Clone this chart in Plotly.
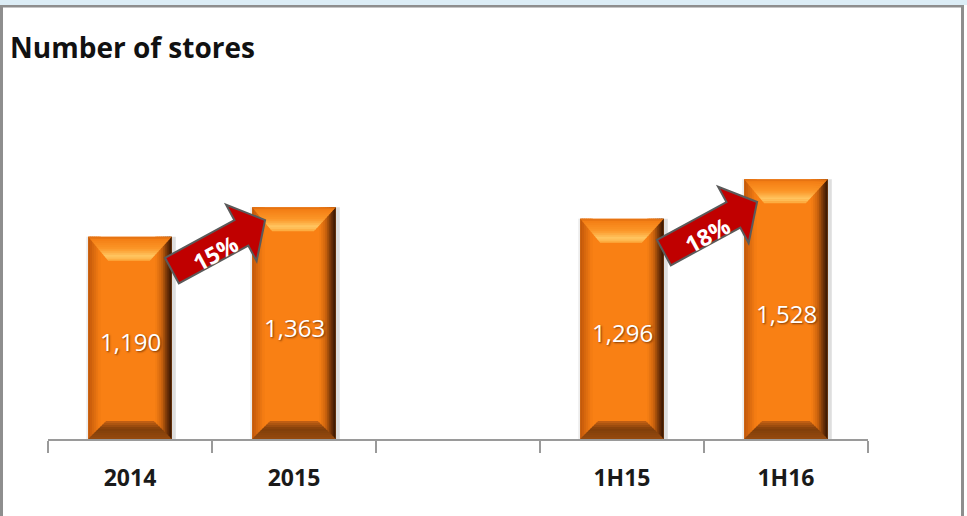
import math
import plotly.graph_objects as go

# ---- data -------------------------------------------------------------
categories = ["2014", "2015", " ", "1H15", "1H16"]
bar_categories = ["2014", "2015", "1H15", "1H16"]
stores = [1190, 1363, 1296, 1528]
growth_pairs = [("2014", "2015"), ("1H15", "1H16")]
title_text = "Number of stores"

# ---- geometry / style ---------------------------------------------------
W, H = 967, 516
M = dict(l=48, r=99, t=167, b=77)
PLOT_W = W - M["l"] - M["r"]
PLOT_H = H - M["t"] - M["b"]
Y_MAX = 1600
SLOT_PX = PLOT_W / len(categories)
BAR_W = 0.51
HALF = BAR_W * SLOT_PX / 2

FACE = (249, 128, 20)
FONT = "Open Sans"


def mix(c1, c2, t):
    return tuple(round(a + (b - a) * t) for a, b in zip(c1, c2))


def ramp(stops, t):
    """Piecewise-linear colour ramp; stops = [(pos, rgb), ...]."""
    for (p0, c0), (p1, c1) in zip(stops, stops[1:]):
        if t <= p1:
            return mix(c0, c1, (t - p0) / (p1 - p0) if p1 > p0 else 0)
    return stops[-1][1]


def rgb(c):
    return "rgb(%d,%d,%d)" % c


def px_path(points):
    return "M " + " L ".join("%.2f,%.2f" % p for p in points) + " Z"


shapes = []
annotations = []

value_of = dict(zip(bar_categories, stores))

# ---- bevelled bars (decoration drawn over the bar trace) -------------------
for cat, val in zip(bar_categories, stores):
    i = categories.index(cat)
    # soft drop shadow around the bar
    shapes.append(dict(type="rect", layer="below", xref="x", yref="y",
                       xsizemode="pixel", xanchor=i, x0=HALF - 1, x1=HALF + 4,
                       y0=0, y1=val, fillcolor="rgba(0,0,0,0.13)", line_width=0))
    shapes.append(dict(type="rect", layer="below", xref="x", yref="y",
                       xsizemode="pixel", xanchor=i, x0=-HALF - 2, x1=-HALF + 1,
                       y0=0, y1=val, fillcolor="rgba(0,0,0,0.07)", line_width=0))

    # left side bevel: darker edge fading into the face
    n = 6
    width = 12
    for k in range(n):
        x0 = -HALF + width * k / n
        x1 = -HALF + width * (k + 1) / n + 0.6
        c = mix((190, 86, 10), FACE, (k + 0.5) / n)
        shapes.append(dict(type="rect", xref="x", yref="y", xsizemode="pixel",
                           xanchor=i, x0=x0, x1=x1, y0=0, y1=val,
                           fillcolor=rgb(c), line_width=0))

    # right side bevel: face fading into dark brown
    n = 8
    width = 16
    right_stops = [(0, FACE), (0.4, (205, 100, 14)), (0.72, (115, 52, 8)), (1, (50, 20, 2))]
    for k in range(n):
        x0 = HALF - width + width * k / n - 0.6
        x1 = HALF - width + width * (k + 1) / n
        c = ramp(right_stops, (k + 0.5) / n)
        shapes.append(dict(type="rect", xref="x", yref="y", xsizemode="pixel",
                           xanchor=i, x0=x0, x1=x1, y0=0, y1=val,
                           fillcolor=rgb(c), line_width=0))

    # top bevel (trapezoid with a light highlight near its lower edge)
    depth, inset_l, inset_r = 24, 20, 22
    top_stops = [(0, (222, 108, 16)), (0.12, (244, 128, 22)), (0.5, (252, 150, 40)),
                 (0.82, (255, 200, 100)), (1, (252, 165, 55))]
    n = 12
    for k in range(n):
        d0 = depth * k / n
        d1 = min(depth, depth * (k + 1) / n + 0.6)
        pts = [(-HALF + inset_l * d0 / depth, -d0), (HALF - inset_r * d0 / depth, -d0),
               (HALF - inset_r * d1 / depth, -d1), (-HALF + inset_l * d1 / depth, -d1)]
        c = ramp(top_stops, (k + 0.5) / n)
        shapes.append(dict(type="path", xref="x", yref="y", xsizemode="pixel",
                           ysizemode="pixel", xanchor=i, yanchor=val,
                           path=px_path(pts), fillcolor=rgb(c), line_width=0))

    # bottom bevel
    depth, inset = 18, 18
    bot_stops = [(0, (150, 74, 14)), (0.55, (128, 62, 10)), (1, (200, 98, 20))]
    n = 9
    for k in range(n):
        h0 = depth * k / n
        h1 = min(depth, depth * (k + 1) / n + 0.6)
        pts = [(-HALF + inset * h0 / depth, h0), (HALF - inset * h0 / depth, h0),
               (HALF - inset * h1 / depth, h1), (-HALF + inset * h1 / depth, h1)]
        c = ramp(bot_stops, (k + 0.5) / n)
        shapes.append(dict(type="path", xref="x", yref="y", xsizemode="pixel",
                           ysizemode="pixel", xanchor=i, yanchor=0,
                           path=px_path(pts), fillcolor=rgb(c), line_width=0))

    # value label inside the bar
    annotations.append(dict(x=i, y=val / 2, xref="x", yref="y", text=f"{val:,}",
                            showarrow=False, yshift=-4,
                            font=dict(family=FONT, size=24, color="white",
                                      shadow="1px 1px 2px rgba(90,35,0,0.75)")))

# ---- growth arrows -----------------------------------------------------
ANG = math.radians(28.5)
L, SW, HW, HL = 106, 14.5, 32, 27
SHIFT = (6.5, -8.6)
local = [(-L / 2, SW), (L / 2 - HL, SW), (L / 2 - HL, HW), (L / 2, 0),
         (L / 2 - HL, -HW), (L / 2 - HL, -SW), (-L / 2, -SW)]
arrow_pts = [(u * math.cos(ANG) - v * math.sin(ANG) + SHIFT[0],
              u * math.sin(ANG) + v * math.cos(ANG) + SHIFT[1]) for u, v in local]

for a, b in growth_pairs:
    ia = categories.index(a)
    va, vb = value_of[a], value_of[b]
    pct = round((vb / va - 1) * 100)
    shapes.append(dict(type="path", xref="x", yref="y", xsizemode="pixel",
                       ysizemode="pixel", xanchor=ia + 0.5, yanchor=va,
                       path=px_path(arrow_pts), fillcolor="#C00000",
                       line=dict(color="#5a5a5a", width=2)))
    annotations.append(dict(x=ia + 0.5, y=va, xref="x", yref="y", text=f"{pct}%",
                            showarrow=False, textangle=-28.5, xshift=3, yshift=-16.6,
                            font=dict(family=FONT, size=23, color="white", weight="bold")))

# ---- outer frame -------------------------------------------------------
def px_x(px):
    return (px - M["l"]) / PLOT_W


def px_y(py):
    return (H - M["b"] - py) / PLOT_H


frame = [
    (0, 0, W, 5, "#dcedf6"),          # light strip at the top
    (0, 5, 963, 7.5, "#8e8e8e"),      # top border
    (0, 5, 3, H, "#8e8e8e"),          # left border
    (961, 5, 964, H, "#8e8e8e"),      # right border
]
for x0, y0, x1, y1, col in frame:
    shapes.append(dict(type="rect", xref="paper", yref="paper", layer="above",
                       x0=px_x(x0), x1=px_x(x1), y0=px_y(y1), y1=px_y(y0),
                       fillcolor=col, line_width=0))

# ---- figure ------------------------------------------------------------
fig = go.Figure(go.Bar(
    x=bar_categories, y=stores, width=BAR_W,
    marker=dict(color=rgb(FACE), line_width=0),
    hoverinfo="x+y",
))

fig.update_layout(
    width=W, height=H, margin=M,
    paper_bgcolor="white", plot_bgcolor="white",
    showlegend=False,
    title=dict(text=title_text, xref="container", yref="container",
               x=10 / W, xanchor="left", y=1 - 48 / H, yanchor="middle",
               font=dict(family=FONT, size=28, weight="bold", color="#111111")),
    xaxis=dict(type="category", categoryorder="array", categoryarray=categories,
               range=[-0.5, len(categories) - 0.5], tickson="boundaries",
               ticks="outside", ticklen=12, tickwidth=2, tickcolor="#9a9a9a",
               showline=True, linecolor="#9a9a9a", linewidth=2, showgrid=False,
               zeroline=False, ticklabelstandoff=17,
               tickfont=dict(family=FONT, size=23, weight="bold", color="#1a1a1a")),
    yaxis=dict(range=[0, Y_MAX], visible=False, fixedrange=True),
    shapes=shapes,
    annotations=annotations,
)

fig.write_html("out.html")
